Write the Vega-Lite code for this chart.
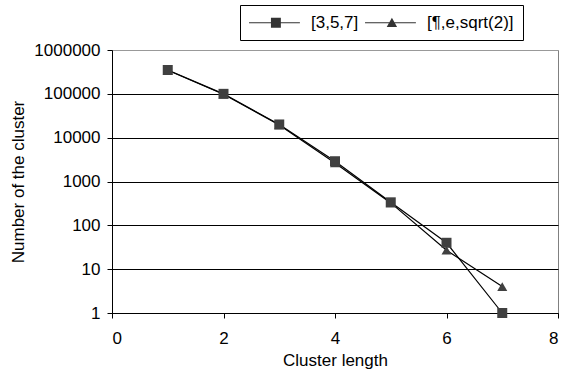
{
  "$schema": "https://vega.github.io/schema/vega-lite/v6.json",
  "width": 446,
  "height": 263,
  "autosize": "none",
  "padding": {"left": 112, "top": 50, "right": 7, "bottom": 68},
  "background": "white",
  "config": {
    "font": "Liberation Sans",
    "view": {"stroke": "#808080", "strokeWidth": 1},
    "axis": {"labelFont": "Liberation Sans", "titleFont": "Liberation Sans", "labelFontSize": 17, "titleFontSize": 17, "titleFontWeight": "normal", "labelColor": "black", "titleColor": "black", "domainColor": "black", "tickColor": "black", "tickSize": 5}
  },
  "data": {"values": [
    {"s": "[3,5,7]", "x": 1, "y": 350000},
    {"s": "[3,5,7]", "x": 2, "y": 100000},
    {"s": "[3,5,7]", "x": 3, "y": 20000},
    {"s": "[3,5,7]", "x": 4, "y": 2900},
    {"s": "[3,5,7]", "x": 5, "y": 335},
    {"s": "[3,5,7]", "x": 6, "y": 40},
    {"s": "[3,5,7]", "x": 7, "y": 1},
    {"s": "[¶,e,sqrt(2)]", "x": 1, "y": 345000},
    {"s": "[¶,e,sqrt(2)]", "x": 2, "y": 98000},
    {"s": "[¶,e,sqrt(2)]", "x": 3, "y": 19500},
    {"s": "[¶,e,sqrt(2)]", "x": 4, "y": 2650},
    {"s": "[¶,e,sqrt(2)]", "x": 5, "y": 325},
    {"s": "[¶,e,sqrt(2)]", "x": 6, "y": 27},
    {"s": "[¶,e,sqrt(2)]", "x": 7, "y": 4}
  ]},
  "encoding": {
    "x": {"field": "x", "type": "quantitative", "scale": {"domain": [0, 8], "nice": false, "zero": false}, "axis": {"values": [0, 2, 4, 6, 8], "grid": false, "title": "Cluster length", "titlePadding": 6, "labelPadding": 12}},
    "y": {"field": "y", "type": "quantitative", "scale": {"type": "log", "domain": [1, 1000000], "nice": false}, "axis": {"values": [1, 10, 100, 1000, 10000, 100000, 1000000], "format": "d", "grid": true, "gridColor": {"condition": {"test": "datum.value >= 1000000", "value": "#999999"}, "value": "black"}, "gridOpacity": 1, "title": "Number of the cluster", "titlePadding": 6, "labelPadding": 7}}
  },
  "resolve": {"scale": {"shape": "independent"}, "legend": {"shape": "independent"}},
  "layer": [
    {
      "mark": {"type": "line", "strokeWidth": 1.2, "color": "black"},
      "encoding": {
        "detail": {"field": "s"}
      }
    },
    {
      "mark": {"type": "point", "filled": true, "opacity": 1, "color": "#404040", "size": 100},
      "encoding": {
        "shape": {"field": "s", "type": "nominal", "scale": {"domain": ["[3,5,7]", "[¶,e,sqrt(2)]"], "range": ["square", "triangle-up"]}, "legend": null}
      }
    },
    {
      "transform": [{"filter": "datum.x > 100"}],
      "mark": {"type": "point", "filled": true, "opacity": 1, "color": "#333333", "size": 256},
      "encoding": {
        "shape": {"field": "s", "type": "nominal",
          "scale": {"domain": ["[3,5,7]", "[¶,e,sqrt(2)]"], "range": ["M-1.06,-0.07H5.3V0.07H-1.06ZM1.68,-0.62H2.92V0.62H1.68Z", "M-1.06,-0.07H5.3V0.07H-1.06ZM2.3,-0.62L2.95,0.52H1.65Z"]},
          "legend": {
            "title": null, "orient": "none", "direction": "horizontal", "legendX": 128, "legendY": -45,
            "strokeColor": "black", "fillColor": "white", "padding": 9,
            "labelFontSize": 17, "labelFont": "Liberation Sans", "labelColor": "black",
            "symbolSize": 256, "symbolStrokeWidth": 0, "symbolFillColor": "#333333", "symbolOpacity": 1,
            "labelOffset": 45, "columnPadding": 6
          }
        }
      }
    }
  ]
}
